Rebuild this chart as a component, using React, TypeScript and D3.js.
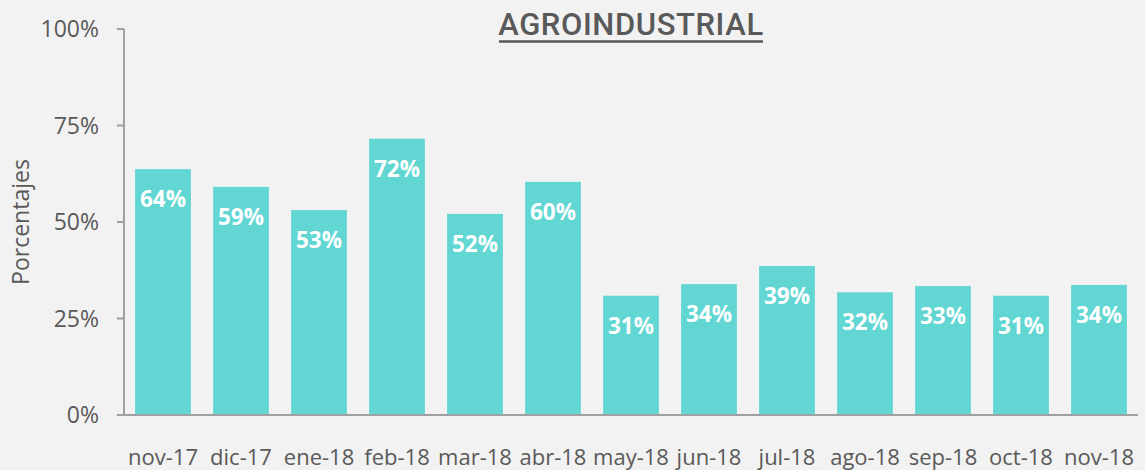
import React from "react";
import * as d3 from "d3";

const categories = ["nov-17","dic-17","ene-18","feb-18","mar-18","abr-18","may-18","jun-18","jul-18","ago-18","sep-18","oct-18","nov-18"];
const values = [0.637, 0.591, 0.531, 0.716, 0.521, 0.604, 0.309, 0.339, 0.386, 0.318, 0.334, 0.309, 0.337];
const yTicks = [0, 0.25, 0.5, 0.75, 1];
const title = "AGROINDUSTRIAL";
const yTitle = "Porcentajes";

const W = 1145, H = 470;
const left = 124, right = 1138, top = 29, bottom = 415;
const gray = "#595959";
const axisGray = "#a0a0a0";
const barColor = "#62d6d3";

export default function App() {
  const x = d3.scaleBand<string>().domain(categories).range([left, right]).paddingInner(0.285).paddingOuter(0.1425);
  const y = d3.scaleLinear().domain([0, 1]).range([bottom, top]);
  const pct = d3.format(".0%");
  return (
    <svg width={W} height={H} style={{ position: "absolute", left: 0, top: 0, background: "#f2f2f2" }}>
      <rect x={0} y={0} width={W} height={H} fill="#f2f2f2" />
      {categories.map((c, i) => (
        <rect key={c} x={x(c)} y={y(values[i])} width={x.bandwidth()} height={y(0) - y(values[i])} fill={barColor} />
      ))}
      {categories.map((c, i) => (
        <text key={"l" + c} x={(x(c) as number) + x.bandwidth() / 2} y={y(values[i]) + 38} textAnchor="middle"
          fill="#ffffff" fontFamily="Open Sans" fontWeight={700} fontSize={22.5}>{pct(values[i])}</text>
      ))}
      <line x1={left} x2={left} y1={y(1)} y2={y(0)} stroke={axisGray} strokeWidth={2} />
      <line x1={left - 1} x2={right} y1={y(0)} y2={y(0)} stroke={axisGray} strokeWidth={2} />
      {yTicks.map(t => (
        <g key={t}>
          <line x1={left - 7} x2={left} y1={y(t)} y2={y(t)} stroke={axisGray} strokeWidth={2} />
          <text x={left - 25} y={y(t)} dy="0.36em" textAnchor="end" fill={gray} fontFamily="Open Sans" fontSize={23}>{pct(t)}</text>
        </g>
      ))}
      {categories.map(c => (
        <text key={"x" + c} x={(x(c) as number) + x.bandwidth() / 2} y={465} textAnchor="middle" fill={gray}
          fontFamily="Open Sans" fontSize={22}>{c}</text>
      ))}
      <text transform={`translate(29,${y(0.5)}) rotate(-90)`} textAnchor="middle" fill={gray} fontFamily="Open Sans" fontSize={23}>{yTitle}</text>
      <text x={631} y={35} textAnchor="middle" fill={gray} fontFamily="Roboto" fontWeight={500} fontSize={31} letterSpacing={0.6}>{title}</text>
      <line x1={499} x2={763} y1={41.5} y2={41.5} stroke={gray} strokeWidth={2.5} />
    </svg>
  );
}
